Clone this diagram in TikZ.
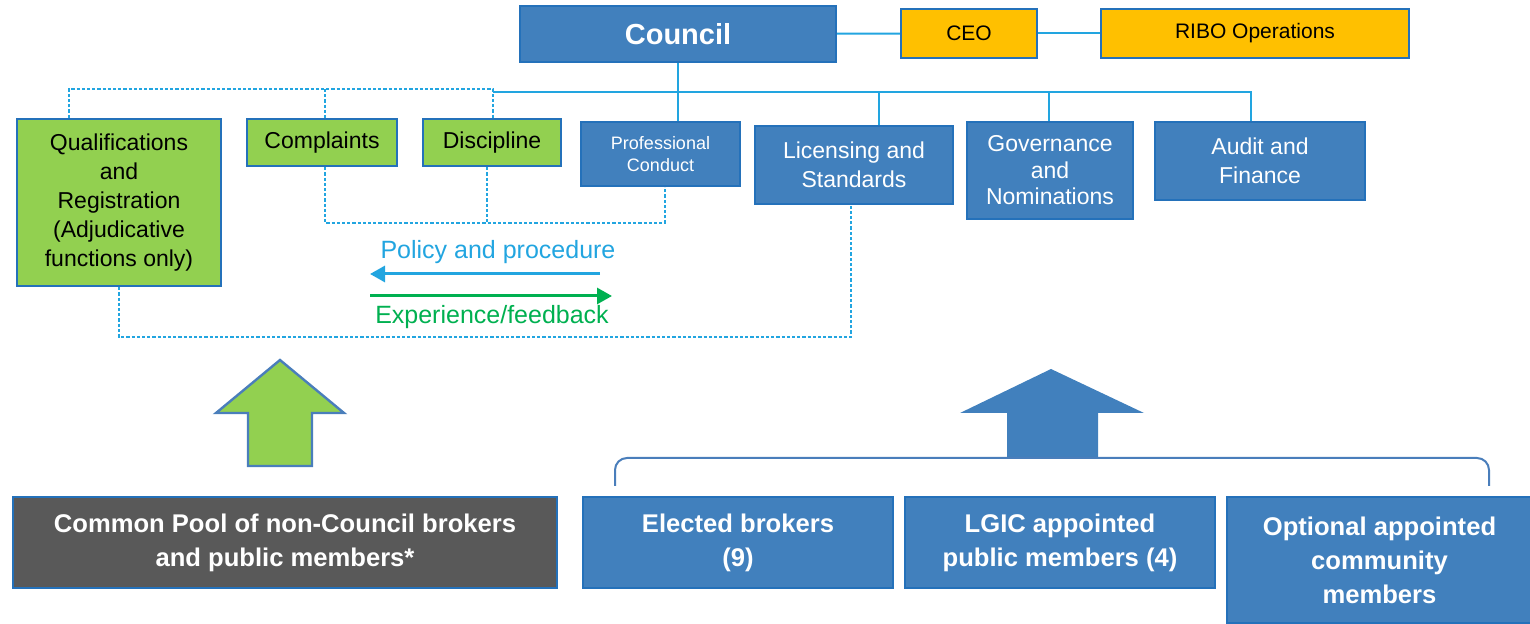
\documentclass[tikz,border=0pt]{standalone}
\usepackage{fontspec}
\setmainfont{Liberation Sans}
\usetikzlibrary{arrows.meta}
\definecolor{boxblue}{HTML}{4180BD}
\definecolor{edgeblue}{HTML}{2471BA}
\definecolor{arrowedge}{HTML}{4A7EBB}
\definecolor{linkblue}{HTML}{22A5E0}
\definecolor{leafgreen}{HTML}{92D050}
\definecolor{ceoyellow}{HTML}{FFC000}
\definecolor{poolgray}{HTML}{595959}
\definecolor{fbgreen}{HTML}{00B050}
\begin{document}
\begin{tikzpicture}[x=0.5pt,y=-0.5pt,
  box/.style={draw=edgeblue,line width=1.2pt,align=center,inner sep=2pt},
  bluebox/.style={box,fill=boxblue,text=white},
  greenbox/.style={box,fill=leafgreen,text=black},
  yellowbox/.style={box,fill=ceoyellow,text=black},
  link/.style={draw=linkblue,line width=1pt},
  dlink/.style={link,dash pattern=on 1.6pt off 1pt},
  mid/.style={font=\fontsize{11.5}{14.5}\selectfont},
  big/.style={font=\fontsize{12.8}{17}\selectfont\bfseries}]
\useasboundingbox (0,0) rectangle (1530,624);

% top row
\node[bluebox,minimum width=158pt,minimum height=28pt,font=\fontsize{14.5}{17}\selectfont\bfseries] (council) at (678,34) {Council};
\node[yellowbox,minimum width=68pt,minimum height=24.5pt,font=\fontsize{10.5}{12}\selectfont] (ceo) at (969,33.5) {CEO};
\node[yellowbox,minimum width=154pt,minimum height=24.5pt,font=\fontsize{10.5}{12}\selectfont] (ribo) at (1255,33.5) {RIBO Operations};

% committees
\node[greenbox,mid,minimum width=102pt,minimum height=83.5pt] (qual) at (119,202.5) {Qualifications\\and\\Registration\\(Adjudicative\\functions only)};
\node[greenbox,mid,minimum width=75pt,minimum height=23.5pt] (compl) at (322,142.5) {Complaints};
\node[greenbox,mid,minimum width=69pt,minimum height=23.5pt] (disc) at (492,142.5) {Discipline};
\node[bluebox,font=\fontsize{9}{11}\selectfont,minimum width=79.5pt,minimum height=32pt] (prof) at (660.5,154) {Professional\\Conduct};
\node[bluebox,mid,minimum width=99pt,minimum height=39pt] (lic) at (854,165) {Licensing and\\Standards};
\node[bluebox,font=\fontsize{11.5}{13.25}\selectfont,minimum width=83pt,minimum height=48.5pt] (gov) at (1050,170.5) {Governance\\and\\Nominations};
\node[bluebox,mid,minimum width=105pt,minimum height=39pt] (audit) at (1260,161) {Audit and\\Finance};

% members
\node[box,fill=poolgray,text=white,big,minimum width=272pt,minimum height=45.5pt] (pool) at (285,542.5) {Common Pool of non-Council brokers\\and public members*};
\node[bluebox,big,minimum width=155pt,minimum height=45.5pt] (elected) at (738,542.5) {Elected brokers\\(9)};
\node[bluebox,big,minimum width=155pt,minimum height=45.5pt] (lgic) at (1060,542.5) {LGIC appointed\\public members (4)};
\node[bluebox,big,minimum width=152.5pt,minimum height=63pt] (optional) at (1379.5,560) {Optional appointed\\community\\members};

\node[text=linkblue,font=\fontsize{12.5}{14}\selectfont] (policy) at (498,252) {Policy and procedure};
\node[text=fbgreen,font=\fontsize{12.5}{14}\selectfont] (feedback) at (492,317) {Experience/feedback};

% solid links
\path[link] (council) -- (ceo);
\path[link] (ceo) -- (ribo);
\coordinate (busL) at (493,92);
\coordinate (busR) at (1252,92);
\path[link] (busL) -- (busR);
\path[link] (council.south) -- (council.south |- prof.north);
\foreach \x/\n in {879/lic,1049/gov,1251/audit}{
  \coordinate (tap) at (\x,92);
  \path[link] (tap) -- (tap |- \n.north);
}

% dashed links
\coordinate (dq) at (69,89);
\coordinate (dc) at (325,89);
\coordinate (dd) at (493,89);
\path[dlink] (dq |- qual.north) -- (dq) -- (dd) -- (dd |- disc.north);
\path[dlink] (dc) -- (dc |- compl.north);
\coordinate (fc) at (325,223);
\coordinate (fd) at (487,223);
\coordinate (fp) at (665,223);
\path[dlink] (fc |- compl.south) -- (fc) -- (fp) -- (fp |- prof.south);
\path[dlink] (fd |- disc.south) -- (fd);
\coordinate (lq) at (119,337);
\coordinate (ll) at (851,337);
\path[dlink] (qual.south) -- (lq) -- (ll) -- (ll |- lic.south);

% flow arrows
\coordinate (pr) at (600,274);
\coordinate (pl) at (370,274);
\coordinate (fl) at (370,296);
\coordinate (fr) at (612,296);
\path[draw=linkblue,line width=1.5pt,-{Triangle[length=7.5pt,width=8pt]}] (pr) -- (pl);
\path[draw=fbgreen,line width=1.5pt,-{Triangle[length=7.5pt,width=8pt]}] (fl) -- (fr);

% block arrows and brace
\path[draw=arrowedge,fill=leafgreen,line width=1.2pt] (280,360) -- (344,413) -- (312,413) -- (312,466) -- (248,466) -- (248,413) -- (216,413) -- cycle;
\path[fill=boxblue] (1051,369) -- (1144,413) -- (1098,413) -- (1098,458) -- (1007,458) -- (1007,413) -- (960,413) -- cycle;
\path[draw=arrowedge,line width=1pt,rounded corners=6pt] (615,486) -- (615,458) -- (1489,458) -- (1489,486);
\end{tikzpicture}
\end{document}
